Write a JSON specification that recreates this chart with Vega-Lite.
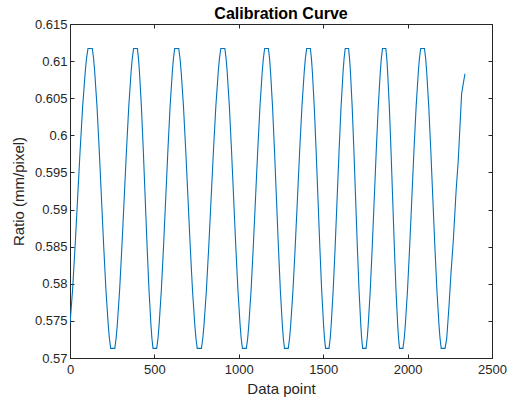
{
  "$schema": "https://vega.github.io/schema/vega-lite/v6.json",
  "width": 422,
  "height": 334,
  "autosize": {"type": "none"},
  "padding": {"left": 70, "top": 24, "right": 15, "bottom": 46},
  "background": "white",
  "title": {
    "text": "Calibration Curve",
    "font": "Liberation Sans",
    "fontSize": 16,
    "fontWeight": "bold",
    "color": "#000000",
    "anchor": "middle",
    "offset": -3.5
  },
  "config": {
    "view": {"stroke": "#262626", "strokeWidth": 1},
    "axis": {
      "grid": false,
      "domainColor": "#262626",
      "tickColor": "#262626",
      "tickSize": -4,
      "labelColor": "#262626",
      "labelFont": "Liberation Sans",
      "labelFontSize": 13,
      "titleFont": "Liberation Sans",
      "titleFontSize": 15,
      "titleFontWeight": "normal",
      "titleColor": "#262626",
      "labelFlush": false,
      "labelOverlap": false
    }
  },
  "data": {
    "values": [
      {"point": 0, "ratio": 0.5746}, {"point": 15, "ratio": 0.5791}, {"point": 30, "ratio": 0.585}, {"point": 45, "ratio": 0.5915}, {"point": 60, "ratio": 0.598}, {"point": 75, "ratio": 0.6039}, {"point": 90, "ratio": 0.6085}, {"point": 97.5, "ratio": 0.6103}, {"point": 106.5, "ratio": 0.6117},
      {"point": 132, "ratio": 0.6117}, {"point": 140, "ratio": 0.6103}, {"point": 146.6, "ratio": 0.6085}, {"point": 159.9, "ratio": 0.6039}, {"point": 173.2, "ratio": 0.598}, {"point": 186.5, "ratio": 0.5915}, {"point": 199.8, "ratio": 0.585}, {"point": 213.1, "ratio": 0.5791}, {"point": 226.4, "ratio": 0.5745}, {"point": 233.1, "ratio": 0.5727}, {"point": 241, "ratio": 0.5713},
      {"point": 265.2, "ratio": 0.5713}, {"point": 273.4, "ratio": 0.5727}, {"point": 280.2, "ratio": 0.5745}, {"point": 293.8, "ratio": 0.5791}, {"point": 307.4, "ratio": 0.585}, {"point": 321, "ratio": 0.5915}, {"point": 334.6, "ratio": 0.598}, {"point": 348.2, "ratio": 0.6039}, {"point": 361.8, "ratio": 0.6085}, {"point": 368.6, "ratio": 0.6103}, {"point": 376.8, "ratio": 0.6117},
      {"point": 399.2, "ratio": 0.6117}, {"point": 405.9, "ratio": 0.6103}, {"point": 411.6, "ratio": 0.6085}, {"point": 422.9, "ratio": 0.6039}, {"point": 434.2, "ratio": 0.598}, {"point": 445.5, "ratio": 0.5915}, {"point": 456.8, "ratio": 0.585}, {"point": 468.1, "ratio": 0.5791}, {"point": 479.4, "ratio": 0.5745}, {"point": 485.1, "ratio": 0.5727}, {"point": 491.8, "ratio": 0.5713},
      {"point": 513.7, "ratio": 0.5713}, {"point": 521.5, "ratio": 0.5727}, {"point": 528, "ratio": 0.5745}, {"point": 541, "ratio": 0.5791}, {"point": 554, "ratio": 0.585}, {"point": 567, "ratio": 0.5915}, {"point": 580, "ratio": 0.598}, {"point": 593, "ratio": 0.6039}, {"point": 606, "ratio": 0.6085}, {"point": 612.5, "ratio": 0.6103}, {"point": 620.3, "ratio": 0.6117},
      {"point": 644.1, "ratio": 0.6117}, {"point": 652.1, "ratio": 0.6103}, {"point": 658.8, "ratio": 0.6085}, {"point": 672.2, "ratio": 0.6039}, {"point": 685.6, "ratio": 0.598}, {"point": 699, "ratio": 0.5915}, {"point": 712.4, "ratio": 0.585}, {"point": 725.8, "ratio": 0.5791}, {"point": 739.2, "ratio": 0.5745}, {"point": 745.9, "ratio": 0.5727}, {"point": 753.9, "ratio": 0.5713},
      {"point": 778.6, "ratio": 0.5713}, {"point": 787, "ratio": 0.5727}, {"point": 794, "ratio": 0.5745}, {"point": 808, "ratio": 0.5791}, {"point": 822, "ratio": 0.585}, {"point": 836, "ratio": 0.5915}, {"point": 850, "ratio": 0.598}, {"point": 864, "ratio": 0.6039}, {"point": 878, "ratio": 0.6085}, {"point": 885, "ratio": 0.6103}, {"point": 893.4, "ratio": 0.6117},
      {"point": 917.4, "ratio": 0.6117}, {"point": 925, "ratio": 0.6103}, {"point": 931.4, "ratio": 0.6085}, {"point": 944.1, "ratio": 0.6039}, {"point": 956.8, "ratio": 0.598}, {"point": 969.5, "ratio": 0.5915}, {"point": 982.2, "ratio": 0.585}, {"point": 994.9, "ratio": 0.5791}, {"point": 1007.6, "ratio": 0.5745}, {"point": 1013.9, "ratio": 0.5727}, {"point": 1021.6, "ratio": 0.5713},
      {"point": 1044.9, "ratio": 0.5713}, {"point": 1052.8, "ratio": 0.5727}, {"point": 1059.4, "ratio": 0.5745}, {"point": 1072.6, "ratio": 0.5791}, {"point": 1085.8, "ratio": 0.585}, {"point": 1099, "ratio": 0.5915}, {"point": 1112.2, "ratio": 0.598}, {"point": 1125.4, "ratio": 0.6039}, {"point": 1138.6, "ratio": 0.6085}, {"point": 1145.2, "ratio": 0.6103}, {"point": 1153.1, "ratio": 0.6117},
      {"point": 1175.4, "ratio": 0.6117}, {"point": 1182.4, "ratio": 0.6103}, {"point": 1188.2, "ratio": 0.6085}, {"point": 1199.8, "ratio": 0.6039}, {"point": 1211.4, "ratio": 0.598}, {"point": 1223, "ratio": 0.5915}, {"point": 1234.6, "ratio": 0.585}, {"point": 1246.2, "ratio": 0.5791}, {"point": 1257.8, "ratio": 0.5745}, {"point": 1263.6, "ratio": 0.5727}, {"point": 1270.6, "ratio": 0.5713},
      {"point": 1293, "ratio": 0.5713}, {"point": 1301, "ratio": 0.5727}, {"point": 1307.6, "ratio": 0.5745}, {"point": 1320.9, "ratio": 0.5791}, {"point": 1334.2, "ratio": 0.585}, {"point": 1347.5, "ratio": 0.5915}, {"point": 1360.8, "ratio": 0.598}, {"point": 1374.1, "ratio": 0.6039}, {"point": 1387.4, "ratio": 0.6085}, {"point": 1394.1, "ratio": 0.6103}, {"point": 1402, "ratio": 0.6117},
      {"point": 1423.9, "ratio": 0.6117}, {"point": 1430.5, "ratio": 0.6103}, {"point": 1436, "ratio": 0.6085}, {"point": 1447, "ratio": 0.6039}, {"point": 1458, "ratio": 0.598}, {"point": 1469, "ratio": 0.5915}, {"point": 1480, "ratio": 0.585}, {"point": 1491, "ratio": 0.5791}, {"point": 1502, "ratio": 0.5745}, {"point": 1507.5, "ratio": 0.5727}, {"point": 1514.1, "ratio": 0.5713},
      {"point": 1534.5, "ratio": 0.5713}, {"point": 1541.6, "ratio": 0.5727}, {"point": 1547.4, "ratio": 0.5745}, {"point": 1559.1, "ratio": 0.5791}, {"point": 1570.8, "ratio": 0.585}, {"point": 1582.5, "ratio": 0.5915}, {"point": 1594.2, "ratio": 0.598}, {"point": 1605.9, "ratio": 0.6039}, {"point": 1617.6, "ratio": 0.6085}, {"point": 1623.5, "ratio": 0.6103}, {"point": 1630.5, "ratio": 0.6117},
      {"point": 1650.2, "ratio": 0.6117}, {"point": 1656.3, "ratio": 0.6103}, {"point": 1661.4, "ratio": 0.6085}, {"point": 1671.6, "ratio": 0.6039}, {"point": 1681.8, "ratio": 0.598}, {"point": 1692, "ratio": 0.5915}, {"point": 1702.2, "ratio": 0.585}, {"point": 1712.4, "ratio": 0.5791}, {"point": 1722.6, "ratio": 0.5745}, {"point": 1727.7, "ratio": 0.5727}, {"point": 1733.8, "ratio": 0.5713},
      {"point": 1753.7, "ratio": 0.5713}, {"point": 1760.9, "ratio": 0.5727}, {"point": 1766.8, "ratio": 0.5745}, {"point": 1778.7, "ratio": 0.5791}, {"point": 1790.6, "ratio": 0.585}, {"point": 1802.5, "ratio": 0.5915}, {"point": 1814.4, "ratio": 0.598}, {"point": 1826.3, "ratio": 0.6039}, {"point": 1838.2, "ratio": 0.6085}, {"point": 1844.2, "ratio": 0.6103}, {"point": 1851.3, "ratio": 0.6117},
      {"point": 1870.9, "ratio": 0.6117}, {"point": 1876.9, "ratio": 0.6103}, {"point": 1881.8, "ratio": 0.6085}, {"point": 1891.7, "ratio": 0.6039}, {"point": 1901.6, "ratio": 0.598}, {"point": 1911.5, "ratio": 0.5915}, {"point": 1921.4, "ratio": 0.585}, {"point": 1931.3, "ratio": 0.5791}, {"point": 1941.2, "ratio": 0.5745}, {"point": 1946.2, "ratio": 0.5727}, {"point": 1952.1, "ratio": 0.5713},
      {"point": 1972.5, "ratio": 0.5713}, {"point": 1980.2, "ratio": 0.5727}, {"point": 1986.6, "ratio": 0.5745}, {"point": 1999.4, "ratio": 0.5791}, {"point": 2012.2, "ratio": 0.585}, {"point": 2025, "ratio": 0.5915}, {"point": 2037.8, "ratio": 0.598}, {"point": 2050.6, "ratio": 0.6039}, {"point": 2063.4, "ratio": 0.6085}, {"point": 2069.8, "ratio": 0.6103}, {"point": 2077.5, "ratio": 0.6117},
      {"point": 2099.9, "ratio": 0.6117}, {"point": 2107.2, "ratio": 0.6103}, {"point": 2113.2, "ratio": 0.6085}, {"point": 2125.3, "ratio": 0.6039}, {"point": 2137.4, "ratio": 0.598}, {"point": 2149.5, "ratio": 0.5915}, {"point": 2161.6, "ratio": 0.585}, {"point": 2173.7, "ratio": 0.5791}, {"point": 2185.8, "ratio": 0.5745}, {"point": 2191.9, "ratio": 0.5727}, {"point": 2199.1, "ratio": 0.5713},
      {"point": 2222, "ratio": 0.5713}, {"point": 2231.6, "ratio": 0.5726}, {"point": 2245, "ratio": 0.5769}, {"point": 2257, "ratio": 0.5814}, {"point": 2271, "ratio": 0.5859}, {"point": 2287, "ratio": 0.5924}, {"point": 2300, "ratio": 0.5966}, {"point": 2310, "ratio": 0.6011}, {"point": 2320, "ratio": 0.6056}, {"point": 2330, "ratio": 0.607}, {"point": 2340, "ratio": 0.6083}
    ]
  },
  "layer": [
    {
      "mark": {"type": "line", "color": "#0072BD", "strokeWidth": 1.1, "clip": true},
      "encoding": {
        "x": {
          "field": "point", "type": "quantitative",
          "scale": {"domain": [0, 2500], "nice": false, "zero": false},
          "axis": {"title": "Data point", "values": [0, 500, 1000, 1500, 2000, 2500], "format": "d", "labelPadding": 9, "titlePadding": 5}
        },
        "y": {
          "field": "ratio", "type": "quantitative",
          "scale": {"domain": [0.57, 0.615], "nice": false, "zero": false},
          "axis": {"title": "Ratio (mm/pixel)", "values": [0.57, 0.575, 0.58, 0.585, 0.59, 0.595, 0.6, 0.605, 0.61, 0.615], "format": ".3~f", "labelPadding": 7, "titlePadding": 8}
        }
      }
    },
    {
      "mark": {"type": "line", "strokeOpacity": 0},
      "encoding": {
        "x": {
          "field": "point", "type": "quantitative",
          "axis": {"orient": "top", "title": null, "labels": false, "values": [0, 500, 1000, 1500, 2000, 2500]}
        },
        "y": {
          "field": "ratio", "type": "quantitative",
          "axis": {"orient": "right", "title": null, "labels": false, "values": [0.57, 0.575, 0.58, 0.585, 0.59, 0.595, 0.6, 0.605, 0.61, 0.615]}
        }
      }
    }
  ],
  "resolve": {"axis": {"x": "independent", "y": "independent"}}
}
